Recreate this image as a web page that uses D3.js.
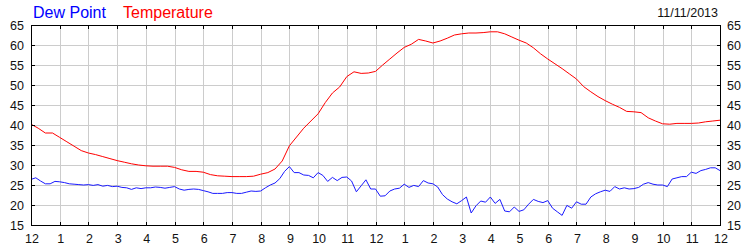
<!DOCTYPE html>
<html>
<head>
<meta charset="utf-8">
<script src="https://cdn.jsdelivr.net/npm/d3@7/dist/d3.min.js"></script>
<style>
html,body{margin:0;padding:0;background:#fff;}
svg{display:block;}
text{font-family:"Liberation Sans",Arial,sans-serif;}
</style>
</head>
<body>
<svg id="chart" width="750" height="250"></svg>
<script>
// Hour tick labels (midnight to midnight)
const hourLabels = ["12","1","2","3","4","5","6","7","8","9","10","11","12","1","2","3","4","5","6","7","8","9","10","11","12"];
const yTicks = [15,20,25,30,35,40,45,50,55,60,65];
const seriesNames = ["Dew Point","Temperature"];
const dateLabel = "11/11/2013";

// Temperature, every 15 minutes from 12am
const temperature = [
40.2,39.2,38.0,38.0,36.9,35.8,34.7,33.6,33.0,32.6,32.1,31.6,31.1,30.7,30.3,30.0,
29.8,29.7,29.7,29.7,29.4,28.8,28.4,28.4,28.2,27.6,27.3,27.2,27.1,27.1,27.1,27.2,
27.7,28.1,29.0,31.0,34.8,37.0,39.2,41.0,42.8,45.6,48.0,49.5,52.1,53.3,52.9,53.0,
53.4,55.0,56.5,58.0,59.4,60.2,61.4,61.0,60.5,61.0,61.7,62.5,62.8,63.0,63.0,63.1,
63.3,63.3,62.8,62.0,61.2,60.5,59.3,57.8,56.5,55.3,54.1,52.8,51.5,49.6,48.3,47.1,
46.1,45.2,44.4,43.4,43.3,43.1,41.8,41.0,40.3,40.2,40.4,40.4,40.4,40.5,40.8,41.0,
41.2
];

// Dew point, every 10 minutes from 12am
const dewPoint = [
26.4,26.8,26.0,25.3,25.3,25.9,25.8,25.6,25.3,25.2,25.1,25.0,
25.1,24.9,25.1,24.7,24.9,24.6,24.7,24.4,24.3,23.9,24.3,24.1,
24.3,24.3,24.5,24.4,24.2,24.4,24.6,24.0,23.7,23.9,24.0,23.9,
23.6,23.3,22.9,22.9,22.9,23.1,23.1,22.9,22.9,23.2,23.5,23.4,
23.5,24.3,25.0,25.5,26.6,28.4,29.6,28.1,28.1,27.5,27.4,26.8,
28.1,27.4,25.9,26.9,26.1,26.9,27.0,26.0,23.3,24.8,26.3,24.0,
24.0,22.2,22.3,23.5,24.0,24.2,25.2,24.4,24.9,24.6,26.1,25.5,
25.3,24.5,22.6,21.5,20.8,20.3,21.1,22.0,18.0,19.8,21.0,20.7,
22.0,20.4,21.4,18.5,18.3,19.5,18.4,18.8,20.2,21.4,20.9,20.6,
21.1,19.2,18.3,17.4,19.9,19.2,20.8,20.2,20.2,22.0,22.8,23.3,
23.7,23.4,24.6,24.0,24.3,24.0,24.1,24.4,25.2,25.6,25.2,25.0,
25.0,24.6,26.5,26.8,27.1,27.1,28.2,27.9,28.6,28.9,29.3,29.3,
28.6
];

const svg = d3.select("#chart");
const pLeft = 31, pRight = 720, pTop = 25, pBottom = 225;

const x = d3.scaleLinear().domain([0,24]).range([pLeft,pRight]);
const y = d3.scaleLinear().domain([15,65]).range([pBottom,pTop]);

const hours = d3.range(0,25);

// grid
const grid = svg.append("g").attr("shape-rendering","crispEdges");
grid.selectAll(".vg").data(hours.slice(1,-1)).enter().append("line")
  .attr("x1",d=>Math.round(x(d))+0.5).attr("x2",d=>Math.round(x(d))+0.5)
  .attr("y1",pTop).attr("y2",pBottom)
  .attr("stroke","#cccccc").attr("stroke-width",1);
grid.selectAll(".hg").data(yTicks.slice(1,-1)).enter().append("line")
  .attr("x1",pLeft).attr("x2",pRight)
  .attr("y1",d=>Math.round(y(d))+0.5).attr("y2",d=>Math.round(y(d))+0.5)
  .attr("stroke","#cccccc").attr("stroke-width",1);

// lines
const tStep = 24/(temperature.length-1);
const dStep = 24/(dewPoint.length-1);
const line = d3.line().x(d=>x(d[0])).y(d=>y(d[1]));

svg.append("path")
  .datum(dewPoint.map((v,i)=>[i*dStep,v]))
  .attr("d",line).attr("fill","none")
  .attr("stroke","#1a1aff").attr("stroke-width",1);
svg.append("path")
  .datum(temperature.map((v,i)=>[i*tStep,v]))
  .attr("d",line).attr("fill","none")
  .attr("stroke","#ff0000").attr("stroke-width",1);

// frame
const frame = svg.append("g").attr("shape-rendering","crispEdges");
frame.append("rect")
  .attr("x",pLeft+0.5).attr("y",pTop+0.5)
  .attr("width",pRight-pLeft).attr("height",pBottom-pTop)
  .attr("fill","none").attr("stroke","#000").attr("stroke-width",1);

// ticks (inward)
const tl = 4;
hours.forEach(h=>{
  const px = Math.round(x(h))+0.5;
  frame.append("line").attr("x1",px).attr("x2",px).attr("y1",pTop).attr("y2",pTop+tl).attr("stroke","#000");
  frame.append("line").attr("x1",px).attr("x2",px).attr("y1",pBottom+1).attr("y2",pBottom+1-tl).attr("stroke","#000");
});
yTicks.forEach(v=>{
  const py = Math.round(y(v))+0.5;
  frame.append("line").attr("x1",pLeft).attr("x2",pLeft+tl).attr("y1",py).attr("y2",py).attr("stroke","#000");
  frame.append("line").attr("x1",pRight+1).attr("x2",pRight+1-tl).attr("y1",py).attr("y2",py).attr("stroke","#000");
});

// axis labels
const lab = svg.append("g").attr("font-size","12.5px").attr("fill","#111");
lab.selectAll(".yl").data(yTicks).enter().append("text")
  .attr("x",24).attr("y",d=>y(d)).attr("dy","0.36em")
  .attr("text-anchor","end").text(d=>d);
lab.selectAll(".yr").data(yTicks).enter().append("text")
  .attr("x",727).attr("y",d=>y(d)).attr("dy","0.36em")
  .attr("text-anchor","start").text(d=>d);
lab.selectAll(".xl").data(hours).enter().append("text")
  .attr("x",d=>x(d)+1).attr("y",243)
  .attr("text-anchor","middle").text(d=>hourLabels[d]);

// legend
svg.append("text").attr("x",33).attr("y",18).attr("font-size","16px")
  .attr("fill","#0000ff").text(seriesNames[0]);
svg.append("text").attr("x",123).attr("y",18).attr("font-size","16px")
  .attr("fill","#ff0000").text(seriesNames[1]);
svg.append("text").attr("x",718).attr("y",17).attr("font-size","12.5px")
  .attr("text-anchor","end").attr("fill","#111").text(dateLabel);
</script>
</body>
</html>
